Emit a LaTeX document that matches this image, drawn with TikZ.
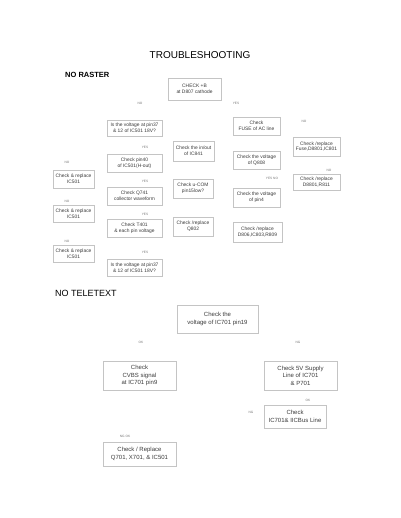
\documentclass[tikz,border=0pt]{standalone}
\usepackage{fontspec}
\setmainfont{Liberation Sans}
\usepackage{tikz}
\usetikzlibrary{positioning}
\definecolor{tsline}{HTML}{C4C4C4}
\definecolor{tstext}{HTML}{3A3A3A}

\begin{document}
\begin{tikzpicture}[
  x=1pt,y=-1pt,
  box/.style={draw=tsline,line width=0.45pt,inner sep=0.5pt,align=center,text=tstext,
    font=\fontsize{4.9}{5.8}\selectfont},
  tbox/.style={box,font=\fontsize{6}{7.4}\selectfont},
  yn/.style={text=tstext!70,inner sep=0pt,font=\fontsize{3.2}{3.2}\selectfont},
  hd/.style={anchor=west,inner sep=0pt,font=\bfseries\fontsize{7.5}{8}\selectfont}]
\useasboundingbox (0,0) rectangle (400,518);
\node[inner sep=0pt,font=\fontsize{10}{11}\selectfont] (title) at (200,55) {TROUBLESHOOTING};
% no raster
\node[hd] (nr) at (65,75) {NO RASTER};
\node[box,minimum width=53,minimum height=22] (chkb) at (194.5,89) {CHECK +B\\at D807 cathode};
\node[box,minimum width=55,minimum height=16] (v1) at (134.5,128) {Is the voltage at pin37\\\& 12 of IC501 18V?};
\node[box,minimum width=55,minimum height=18] (p40) at (134.5,163) {Check pin40\\of IC501(H-out)};
\node[box,minimum width=55,minimum height=18] (q741) at (134.5,196) {Check Q741\\collector waveform};
\node[box,minimum width=55,minimum height=18] (t401) at (134.5,228) {Check T401\\\& each pin voltage};
\node[box,minimum width=55,minimum height=17] (v2) at (134.5,267.5) {Is the voltage at pin37\\\& 12 of IC501 18V?};
\node[box,minimum width=41,minimum height=18] (r1) at (73.5,179) {Check \& replace\\IC501};
\node[box,minimum width=41,minimum height=17] (r2) at (73.5,213.5) {Check \& replace\\IC501};
\node[box,minimum width=41,minimum height=17] (r3) at (73.5,253.5) {Check \& replace\\IC501};
\node[box,minimum width=41,minimum height=20] (io) at (193.5,151) {Check the in/out\\of IC841};
\node[box,minimum width=40,minimum height=19] (ucom) at (193,188.5) {Check u-COM\\pin15low?};
\node[box,minimum width=40,minimum height=19] (q802) at (193,226.5) {Check /replace\\Q802};
\node[box,minimum width=47,minimum height=18] (fuse) at (256.5,126) {Check\\FUSE of AC line};
\node[box,minimum width=47,minimum height=18] (q808) at (256.5,160) {Check the voltage\\of Q808};
\node[box,minimum width=47,minimum height=19] (pin4) at (256.5,197.5) {Check the voltage\\of pin4};
\node[box,minimum width=49,minimum height=20] (d806) at (257.5,232) {Check /replace\\D806,IC803,R809};
\node[box,minimum width=47,minimum height=19] (f801) at (316.5,146.5) {Check /replace\\Fuse,D8801,IC801};
\node[box,minimum width=47,minimum height=16] (d801) at (316.5,182) {Check /replace\\D8801,R811};
\node[yn] (l1) at (140,103) {NO};
\node[yn] (l2) at (236,103) {YES};
\node[yn] (l3) at (304,121) {NO};
\node[yn] (l4) at (145,147) {YES};
\node[yn] (l5) at (145,181) {YES};
\node[yn] (l6) at (145,214) {YES};
\node[yn] (l7) at (145,252) {YES};
\node[yn] (l8) at (67,162) {NO};
\node[yn] (l9) at (67,201) {NO};
\node[yn] (l10) at (67,241) {NO};
\node[yn] (l11) at (329,170) {NO};
\node[yn] (l12) at (272,178) {YES NO};
% no teletext
\node[hd,font=\fontsize{9}{10}\selectfont] (nt) at (55,293) {NO TELETEXT};
\node[tbox,minimum width=81,minimum height=28] (ic19) at (217.5,319) {Check the\\voltage of IC701 pin19};
\node[tbox,minimum width=73,minimum height=29] (cvbs) at (139.5,375.5) {Check\\CVBS signal\\at IC701 pin9};
\node[tbox,minimum width=73,minimum height=29] (sup) at (300.5,375.5) {Check 5V Supply\\Line of IC701\\\& P701};
\node[tbox,minimum width=62,minimum height=23] (bus) at (295,416.5) {Check\\IC701\& IICBus Line};
\node[tbox,minimum width=73,minimum height=24] (q701) at (139.5,454) {Check / Replace\\Q701, X701, \& IC501};
\node[yn] (l13) at (141,342) {OK};
\node[yn] (l14) at (298,342) {NG};
\node[yn] (l15) at (308,400) {OK};
\node[yn] (l16) at (251,412) {NG};
\node[yn] (l17) at (125,436) {NG OK};
\end{tikzpicture}
\end{document}
